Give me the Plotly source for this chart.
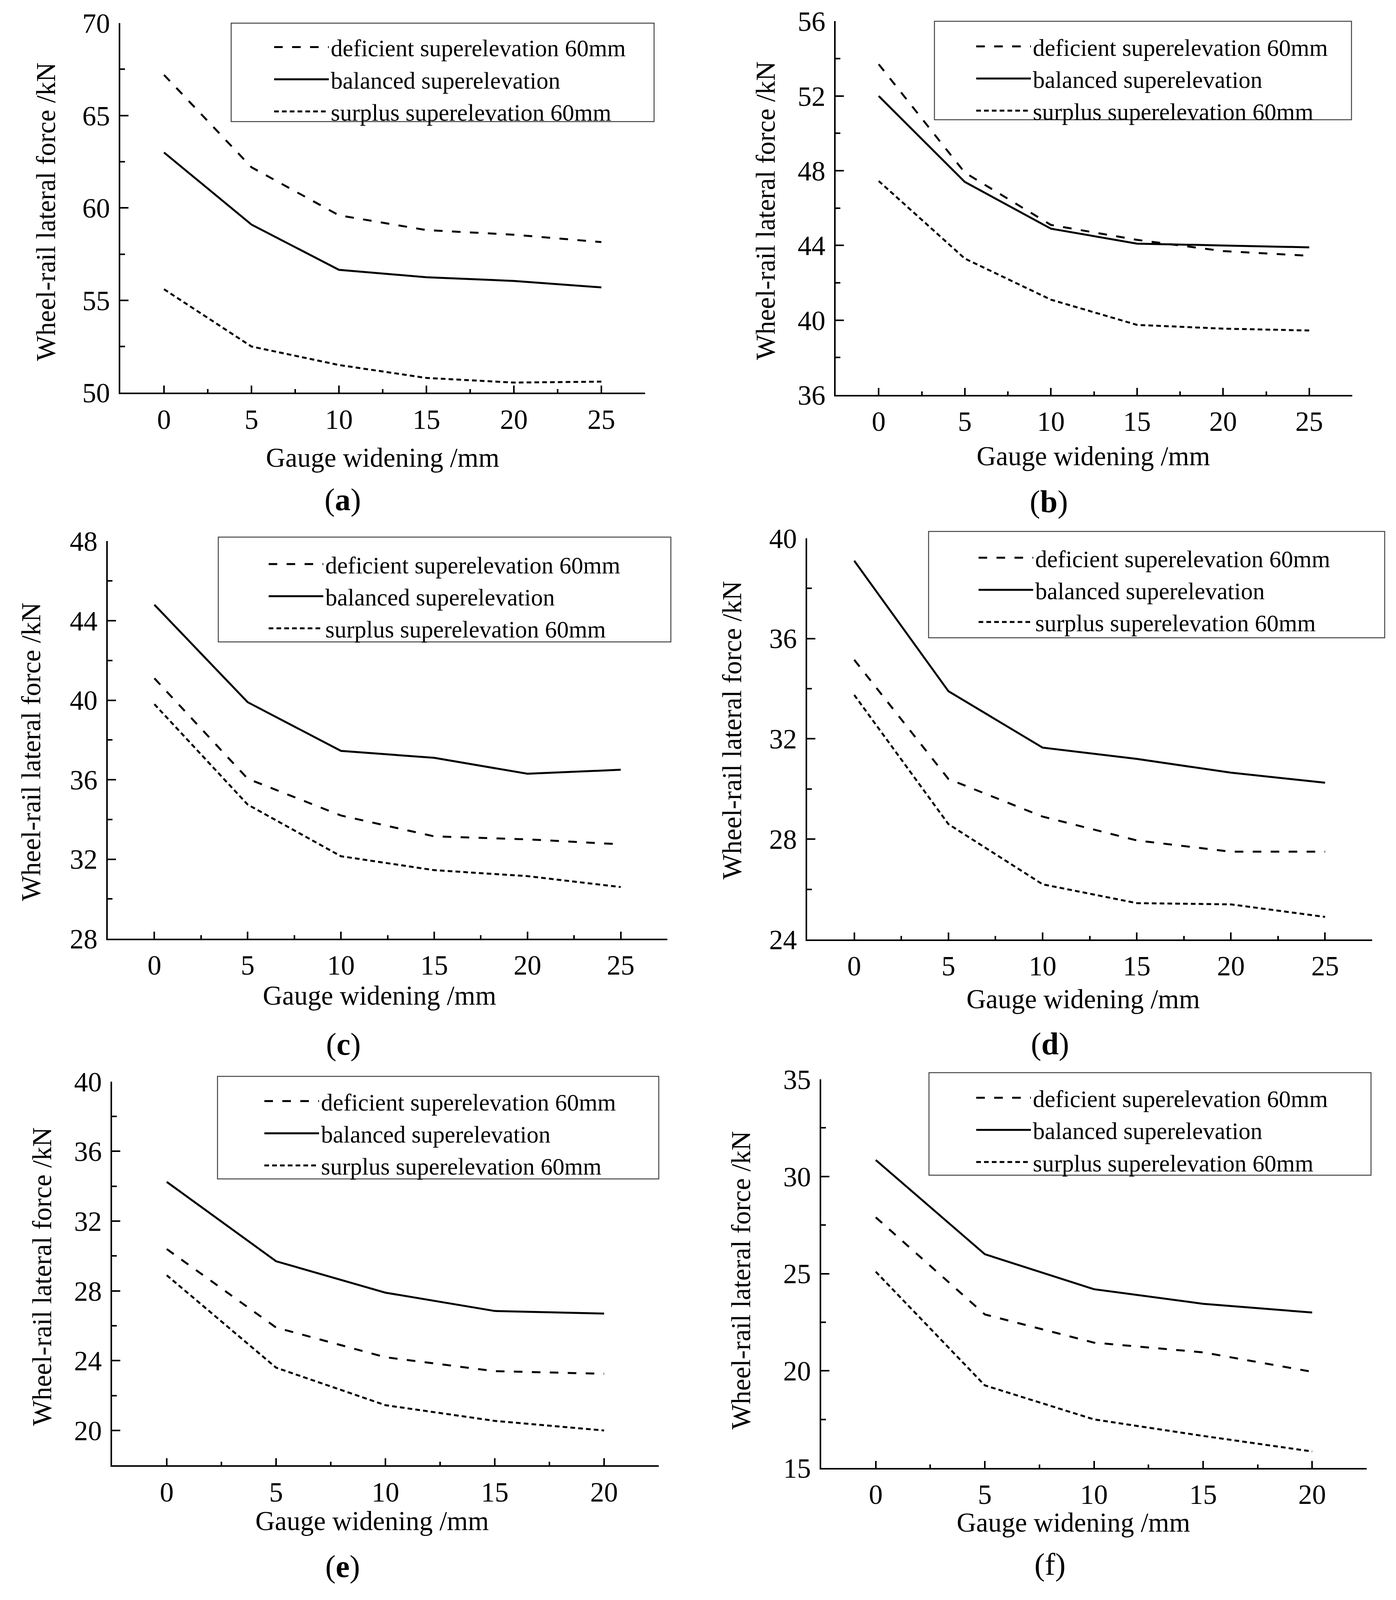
import plotly.graph_objects as go

W, H = 3575, 4290
FONT = "Liberation Serif"

# ---------------- data ----------------
series_names = ["deficient superelevation 60mm",
                "balanced superelevation",
                "surplus superelevation 60mm"]

gauge_25 = [0, 5, 10, 15, 20, 25]
gauge_20 = [0, 5, 10, 15, 20]

a_def = [67.2, 62.2, 59.6, 58.8, 58.55, 58.15]
a_bal = [63.0, 59.1, 56.65, 56.25, 56.05, 55.7]
a_sur = [55.6, 52.5, 51.5, 50.8, 50.55, 50.6]

b_def = [53.7, 47.9, 45.1, 44.3, 43.7, 43.45]
b_bal = [52.0, 47.4, 44.9, 44.1, 44.0, 43.9]
b_sur = [47.45, 43.3, 41.1, 39.75, 39.55, 39.45]

c_def = [41.1, 36.05, 34.2, 33.15, 33.0, 32.75]
c_bal = [44.8, 39.9, 37.45, 37.1, 36.3, 36.5]
c_sur = [39.8, 34.75, 32.15, 31.45, 31.15, 30.6]

d_def = [35.15, 30.4, 28.9, 27.95, 27.5, 27.5]
d_bal = [39.1, 33.9, 31.65, 31.2, 30.65, 30.25]
d_sur = [33.75, 28.6, 26.2, 25.45, 25.4, 24.9]

e_def = [30.4, 25.9, 24.2, 23.4, 23.25]
e_bal = [34.25, 29.7, 27.9, 26.85, 26.7]
e_sur = [28.9, 23.6, 21.45, 20.55, 20.0]

f_def = [27.9, 22.9, 21.45, 20.95, 19.95]
f_bal = [30.85, 26.0, 24.2, 23.45, 23.0]
f_sur = [25.1, 19.25, 17.5, 16.65, 15.85]

x_title = "Gauge widening /mm"
y_title = "Wheel-rail lateral force /kN"
panel_labels = ["(<b>a</b>)", "(<b>b</b>)", "(<b>c</b>)", "(<b>d</b>)", "(<b>e</b>)", "(f)"]

panels = [
    dict(x=gauge_25, ys=[a_def, a_bal, a_sur], yr=[50, 70], yd=5, ym=2.5, xr=[-2.5, 27.5]),
    dict(x=gauge_25, ys=[b_def, b_bal, b_sur], yr=[36, 56], yd=4, ym=2, xr=[-2.5, 27.5]),
    dict(x=gauge_25, ys=[c_def, c_bal, c_sur], yr=[28, 48], yd=4, ym=2, xr=[-2.5, 27.5]),
    dict(x=gauge_25, ys=[d_def, d_bal, d_sur], yr=[24, 40], yd=4, ym=2, xr=[-2.5, 27.5]),
    dict(x=gauge_20, ys=[e_def, e_bal, e_sur], yr=[18, 40], yd=4, ym=2, xr=[-2.5, 22.5]),
    dict(x=gauge_20, ys=[f_def, f_bal, f_sur], yr=[15, 35], yd=5, ym=2.5, xr=[-2.5, 22.5]),
]

# ---------------- layout geometry (pixels) ----------------
# plot area: x0, x1, y0(top), y1(bottom)
areas = [(308, 1652, 62, 1053), (2140, 3463, 57, 1059),
         (276, 1709, 1451, 2517), (2067, 3514, 1443, 2519),
         (287, 1687, 2900, 3929), (2103, 3500, 2894, 3936)]
# legend frame boxes
frames = [(592, 1675, 62, 326), (2393, 3461, 57, 321),
          (559, 1718, 1440, 1721), (2378, 3546, 1425, 1710),
          (557, 1687, 2886, 3161), (2379, 3511, 2876, 3151)]
# legend anchor (left, top)
leg_pos = [(697, 78), (2495, 76), (683, 1464), (2501, 1447), (672, 2904), (2495, 2895)]
# x title (cx, cy), y title (cx, cy), panel label (cx, cy)
xt_pos = [(980, 1228), (2800, 1223), (972, 2670), (2774, 2679), (953, 4078), (2749, 4083)]
yt_pos = [(118, 568), (1961, 565), (80, 2016), (1875, 1958), (108, 3423), (1898, 3433)]
pl_pos = [(877, 1340), (2686, 1345), (879, 2800), (2689, 2799), (877, 4200), (2689, 4195)]

dashes = ["22px,24px", "solid", "12px,8px"]

def px(x):
    return x / W

def py(y):
    return 1 - y / H

fig = go.Figure()
layout = dict(width=W, height=H, autosize=False,
              margin=dict(l=0, r=0, t=0, b=0, pad=0, autoexpand=False),
              paper_bgcolor="white", plot_bgcolor="white",
              font=dict(family=FONT, color="black"), showlegend=True)
shapes = []
annotations = []

for i, p in enumerate(panels):
    n = "" if i == 0 else str(i + 1)
    leg = "legend" + n
    for j, name in enumerate(series_names):
        fig.add_trace(go.Scatter(
            x=p["x"], y=p["ys"][j], mode="lines", name=name,
            line=dict(color="black", width=5, dash=dashes[j]),
            xaxis="x" + n, yaxis="y" + n, legend=leg, showlegend=True))
    x0, x1, y0, y1 = areas[i]
    layout["xaxis" + n] = dict(
        domain=[px(x0), px(x1)], range=p["xr"], anchor="y" + n, automargin=False,
        showline=True, linecolor="black", linewidth=4, mirror=False,
        showgrid=False, zeroline=False,
        ticks="inside", ticklen=18, tickwidth=3.5, tickcolor="black",
        tick0=0, dtick=5, ticklabelstandoff=3,
        tickfont=dict(family=FONT, size=71, color="black"),
        minor=dict(ticks="inside", ticklen=9, tickwidth=3.5, tickcolor="black",
                   tick0=0, dtick=2.5, showgrid=False))
    layout["yaxis" + n] = dict(
        domain=[py(y1), py(y0)], range=p["yr"], anchor="x" + n, automargin=False,
        showline=True, linecolor="black", linewidth=4, mirror=False,
        showgrid=False, zeroline=False,
        ticks="inside", ticklen=21, tickwidth=3.5, tickcolor="black",
        tick0=0, dtick=p["yd"], ticklabelstandoff=8,
        tickfont=dict(family=FONT, size=71, color="black"),
        minor=dict(ticks="inside", ticklen=12, tickwidth=3.5, tickcolor="black",
                   tick0=0, dtick=p["ym"], showgrid=False))
    lx, ly = leg_pos[i]
    layout[leg] = dict(x=px(lx), y=py(ly), xanchor="left", yanchor="top",
                       bgcolor="rgba(0,0,0,0)", borderwidth=0,
                       font=dict(family=FONT, size=61, color="black"),
                       itemwidth=140, tracegroupgap=0)
    fx0, fx1, fy0, fy1 = frames[i]
    shapes.append(dict(type="rect", xref="paper", yref="paper",
                       x0=px(fx0), x1=px(fx1), y0=py(fy1), y1=py(fy0),
                       line=dict(color="#444444", width=2.5), fillcolor="rgba(0,0,0,0)"))
    cx, cy = xt_pos[i]
    annotations.append(dict(text=x_title, x=px(cx), y=py(cy), xref="paper", yref="paper",
                            showarrow=False, xanchor="center", yanchor="middle",
                            font=dict(family=FONT, size=69, color="black")))
    cx, cy = yt_pos[i]
    annotations.append(dict(text=y_title, x=px(cx), y=py(cy), xref="paper", yref="paper",
                            showarrow=False, xanchor="center", yanchor="middle", textangle=-90,
                            font=dict(family=FONT, size=69, color="black")))
    cx, cy = pl_pos[i]
    annotations.append(dict(text=panel_labels[i], x=px(cx), y=py(cy), xref="paper", yref="paper",
                            showarrow=False, xanchor="center", yanchor="middle",
                            font=dict(family=FONT, size=80, color="black")))

layout["shapes"] = shapes
layout["annotations"] = annotations
fig.update_layout(**layout)

# remove page margin; if the visible page is shorter than the figure, fit its height
fit_js = """
document.body.style.margin = '0';
document.body.style.overflow = 'hidden';
var gd = document.getElementById('{plot_id}');
var vh = window.innerHeight;
if (vh && vh < %d) { gd.style.height = vh + 'px'; Plotly.relayout(gd, {height: vh}); }
""" % H

fig.write_html("out.html", config={"responsive": False, "displayModeBar": False},
               post_script=fit_js)
